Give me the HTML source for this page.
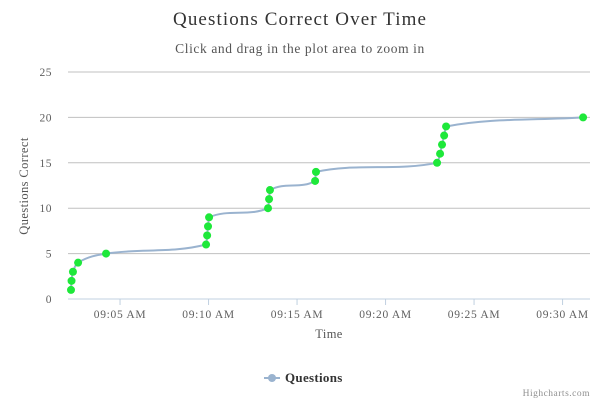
<!DOCTYPE html>
<html><head><meta charset="utf-8"><style>
body{margin:0;background:#fff}
svg{display:block;font-family:"Liberation Serif",serif}
</style></head><body>
<svg id="chart" width="600" height="400">
<text x="300" y="25" text-anchor="middle" font-size="19" letter-spacing="1.1" fill="#333">Questions Correct Over Time</text>
<text x="300" y="53" text-anchor="middle" font-size="13.5" letter-spacing="0.6" fill="#555">Click and drag in the plot area to zoom in</text>
<g id="grid"></g><g id="axes"></g><path id="line" fill="none" stroke="#9ab3cf" stroke-width="2"/><g id="pts"></g>
<text x="28" y="186" text-anchor="middle" font-size="12.5" letter-spacing="0.4" fill="#555" transform="rotate(-90 28 186)">Questions Correct</text>
<text x="329" y="338" text-anchor="middle" font-size="12.5" letter-spacing="0.4" fill="#555">Time</text>
<g>
<line x1="264" y1="378" x2="280" y2="378" stroke="#9ab3cf" stroke-width="2"/>
<circle cx="272" cy="378" r="4" fill="#9ab3cf"/>
<text x="285" y="382" font-size="13" letter-spacing="0.3" fill="#333" font-weight="bold">Questions</text></g>
<text x="590" y="396" text-anchor="end" font-size="9.5" letter-spacing="0.5" fill="#909090">Highcharts.com</text>
</svg>
<script>
const xs=[2.23,2.26,2.34,2.63,4.21,9.86,9.92,9.97,10.03,13.36,13.42,13.47,16.02,16.07,22.91,23.08,23.19,23.31,23.42,31.16];
const ys=[1,2,3,4,5,6,7,8,9,10,11,12,13,14,15,16,17,18,19,20];
const yTicks=[0,5,10,15,20,25];
const xTicks=[5,10,15,20,25,30];
const xLabels=["09:05 AM","09:10 AM","09:15 AM","09:20 AM","09:25 AM","09:30 AM"];
const L=68,R=590,T=72,B=299,xmin=2.06,xmax=31.55;
const X=m=>L+(m-xmin)/(xmax-xmin)*(R-L);
const Y=v=>B-v/25*(B-T);
const ns="http://www.w3.org/2000/svg";
function mk(t,a,p){const e=document.createElementNS(ns,t);for(const k in a)e.setAttribute(k,a[k]);p.appendChild(e);return e;}
const g=document.getElementById('grid'),ax=document.getElementById('axes');
yTicks.forEach(v=>{
 const l=mk('line',{x1:L,x2:R,y1:Y(v),y2:Y(v),stroke:v===0?'#c0d0e0':'#c0c0c0','stroke-width':1},g);
 
 
 const t=mk('text',{x:52,y:Y(v)+4,'text-anchor':'end','font-size':11.5,'letter-spacing':0.5,fill:'#606060'},ax);t.textContent=v;
 
 
});
xTicks.forEach((m,i)=>{
 const l=mk('line',{x1:X(m),x2:X(m),y1:B,y2:B+6,stroke:'#c0d0e0'},ax);
 
 
 const t=mk('text',{x:X(m),y:B+19,'text-anchor':'middle','font-size':11.5,'letter-spacing':0.7,fill:'#606060'},ax);t.textContent=xLabels[i];
 
 
});
const P=xs.map((m,i)=>[X(m),Y(ys[i])]);const n=P.length;
const d=[],s=[];for(let i=0;i<n-1;i++){d.push(P[i+1][0]-P[i][0]);s.push((P[i+1][1]-P[i][1])/Math.max(d[i],0.01));}
const t=[s[0]];for(let i=1;i<n-1;i++){t.push(s[i-1]*s[i]<=0?0:3*(d[i-1]+d[i])/((2*d[i]+d[i-1])/s[i-1]+(d[i]+2*d[i-1])/s[i]));}t.push(s[n-2]);
let path='M'+P[0][0]+','+P[0][1];
for(let i=0;i<n-1;i++){const h=d[i]/3;path+=` C${P[i][0]+h},${P[i][1]+t[i]*h} ${P[i+1][0]-h},${P[i+1][1]-t[i+1]*h} ${P[i+1][0]},${P[i+1][1]}`;}
document.getElementById('line').setAttribute('d',path);
const pg=document.getElementById('pts');
P.forEach(p=>{const c=mk('circle',{cx:p[0],cy:p[1],r:4,fill:'#1ee83a'},pg);
 
 });
</script>
</body></html>
